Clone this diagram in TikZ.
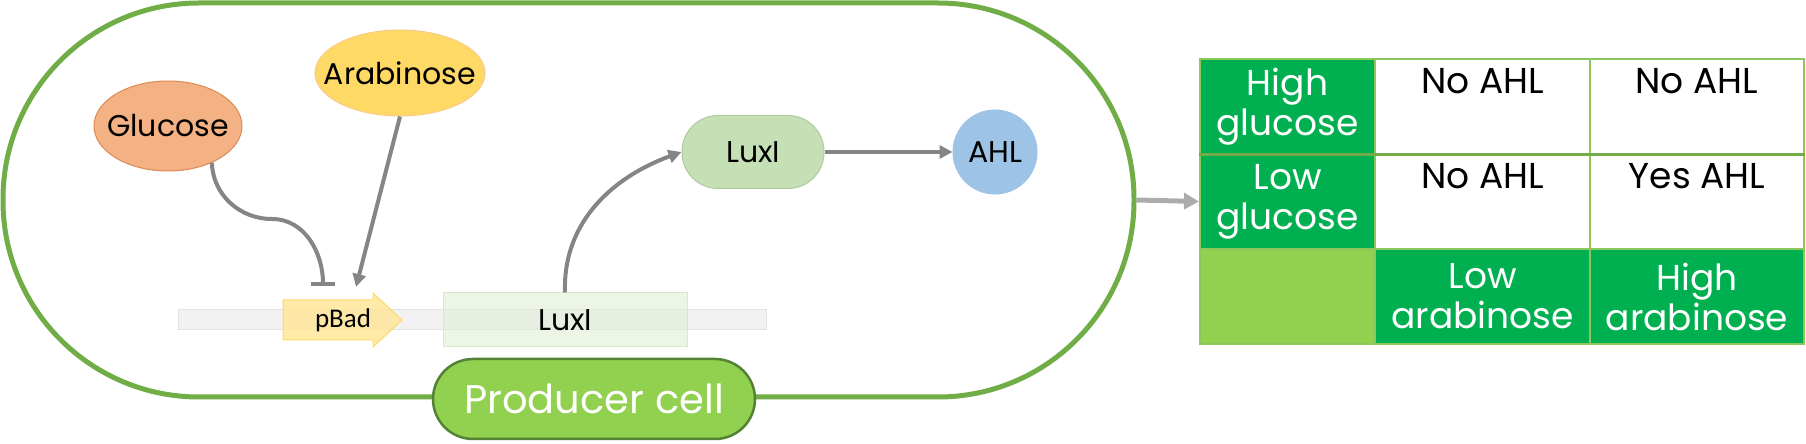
\documentclass[tikz,border=0pt]{standalone}
\usepackage{fontspec}
\setmainfont{Poppins}
\newfontfamily\genefont{Carlito}
\usetikzlibrary{arrows.meta,shapes.geometric}
\definecolor{clrCell}{HTML}{70AD47}
\definecolor{clrCellDk}{HTML}{548235}
\definecolor{clrLime}{HTML}{92D050}
\definecolor{clrTab}{HTML}{00B050}
\definecolor{clrTabLn}{HTML}{8CC75C}
\definecolor{clrGlu}{HTML}{F4B183}
\definecolor{clrGluDk}{HTML}{D98A55}
\definecolor{clrAra}{HTML}{FFD966}
\definecolor{clrAraDk}{HTML}{F7C98A}
\definecolor{clrProm}{HTML}{FFE699}
\definecolor{clrLux}{HTML}{C5E0B4}
\definecolor{clrAHL}{HTML}{9DC3E6}
\definecolor{clrArr}{HTML}{858585}
\tikzset{
  membrane/.style={rectangle,draw=clrCell,line width=5pt,rounded corners=196pt,
    minimum width=1131pt,minimum height=394pt,inner sep=0pt},
  celltag/.style={rectangle,rounded corners=40pt,draw=clrCellDk,line width=2.5pt,
    fill=clrLime,text=white,minimum width=322pt,minimum height=80pt,
    font=\fontsize{40}{44}\selectfont},
  sugar/.style={ellipse,inner xsep=-16pt,inner ysep=0pt,line width=1pt,
    font=\fontsize{30}{34}\selectfont},
  dna/.style={rectangle,fill=gray!10,draw=gray!22,line width=1pt,inner sep=0pt,
    minimum width=588pt,minimum height=20pt},
  promoter/.style={fill=clrProm,draw=clrAra,line width=1pt,fill opacity=0.85},
  genetxt/.style={font=\genefont\fontsize{27}{30}\selectfont},
  gene/.style={rectangle,fill=clrLux!55,draw=clrLux!70,line width=1pt,fill opacity=0.6,
    text opacity=1,minimum width=244pt,minimum height=54pt,
    font=\fontsize{30}{34}\selectfont},
  protein/.style={rectangle,rounded corners=36pt,fill=clrLux,draw=clrLux!90!black,
    line width=1pt,minimum width=142pt,minimum height=73pt,font=\fontsize{30}{34}\selectfont},
  act/.style={-{Triangle[length=13pt,width=13pt]},line width=4pt,draw=clrArr},
  inh/.style={-{Bar[width=24pt,line width=4pt]},line width=4pt,draw=clrArr},
  tabhead/.style={rectangle,fill=clrTab,draw=clrTabLn,line width=2pt,text=white,
    align=center,font=\fontsize{36}{40}\selectfont,minimum height=95pt,inner sep=0pt},
  tabcell/.style={tabhead,fill=white,text=black},
  tabblank/.style={tabhead,fill=clrLime}
}
\begin{document}
\begin{tikzpicture}[x=1pt,y=1pt]
  \useasboundingbox (0,0) rectangle (1806,444);
  % producer cell
  \node[membrane] (cell) at (568.5,244) {};
  \node[dna] (bar) at (472,124) {};
  \draw[promoter] (283,104) -- (373,104) -- (373,97) -- (402,124) -- (373,151)
    -- (373,144) -- (283,144) -- cycle;
  \node[genetxt] (pbad) at (343,124) {pBad};
  \node[gene] (luxg) at (565,124) {LuxI};
  \node[sugar,fill=clrGlu,draw=clrGluDk,minimum width=148pt,minimum height=90pt] (glu)
    at (168,318) {Glucose};
  \node[sugar,fill=clrAra,draw=clrAraDk,minimum width=170pt,minimum height=86pt] (ara)
    at (400,371) {Arabinose};
  \node[protein] (luxp) at (753,292) {LuxI};
  \node[sugar,fill=clrAHL,draw=clrAHL,minimum width=84pt,minimum height=84pt] (ahl)
    at (995,292) {AHL};
  \coordinate (blk) at (323,158);
  \coordinate (ind) at (356,157);
  \draw[inh] (glu.-40) to[out=-88,in=180] (272,225) to[out=0,in=90] (blk);
  \draw[act] (ara.south) -- (ind);
  \draw[act] (luxg.north) to[out=92,in=200] (luxp.west);
  \draw[act] (luxp) -- (ahl);
  \node[celltag] (tag) at (594,45) {Producer cell};
  % truth table
  \node[tabhead,minimum width=175pt] (hg) at (1287.5,337.5) {High\\glucose};
  \node[tabcell,minimum width=215pt] (r11) at (1482.5,337.5) {No AHL\\\strut};
  \node[tabcell,minimum width=214pt] (r12) at (1697,337.5) {No AHL\\\strut};
  \node[tabhead,minimum width=175pt] (lg) at (1287.5,242.5) {Low\\glucose};
  \node[tabcell,minimum width=215pt] (r21) at (1482.5,242.5) {No AHL\\\strut};
  \node[tabcell,minimum width=214pt] (r22) at (1697,242.5) {Yes AHL\\\strut};
  \node[tabblank,minimum width=175pt] (corner) at (1287.5,147.5) {};
  \node[tabhead,minimum width=215pt] (la) at (1482.5,147.5) {Low\\arabinose};
  \node[tabhead,minimum width=214pt] (ha) at (1697,147.5) {High\\arabinose};
  \draw[clrCell,line width=3pt] (hg.south west) -- (r12.south east);
  \draw[-{Triangle[length=15pt,width=16pt]},line width=5pt,draw=gray!65]
    (cell.east) -- (lg.west);
\end{tikzpicture}
\end{document}
